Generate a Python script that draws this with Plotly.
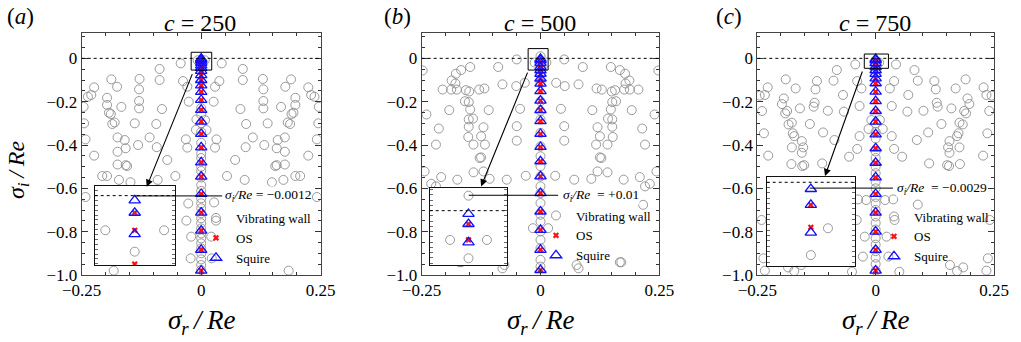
import plotly.graph_objects as go

W, H = 1021, 342
FONT = "Liberation Serif, Times New Roman, Times, serif"

# ---------------- data ----------------
# panel titles / labels
c_values = [250, 500, 750]
panel_tags = ["a", "b", "c"]
least_stable_labels = ["\u22120.0012", "+0.01", "\u22120.0029"]

# (a) c = 250 : vibrating-wall modes off the axis, right half (spectrum symmetric in sigma_r)
a_wall_side = [(0.043, -0.023), (0.087, -0.049), (0.038, -0.105), (0.087, -0.100), (0.129, -0.095),
               (0.188, -0.097), (0.029, -0.131), (0.176, -0.131), (0.130, -0.143), (0.224, -0.134),
               (0.230, -0.169), (0.237, -0.177), (0.026, -0.200), (0.130, -0.197), (0.197, -0.182),
               (0.082, -0.234), (0.130, -0.231), (0.167, -0.224), (0.197, -0.215), (0.193, -0.251),
               (0.189, -0.257), (0.246, -0.224), (0.245, -0.300), (0.094, -0.303), (0.139, -0.300),
               (0.181, -0.296), (0.186, -0.303), (0.108, -0.365), (0.032, -0.374), (0.160, -0.377),
               (0.175, -0.365), (0.242, -0.374), (0.029, -0.412), (0.093, -0.410), (0.132, -0.400),
               (0.158, -0.415), (0.175, -0.431), (0.224, -0.449), (0.071, -0.469), (0.155, -0.497),
               (0.158, -0.493), (0.175, -0.490), (0.054, -0.543), (0.091, -0.561), (0.172, -0.561),
               (0.197, -0.543), (0.207, -0.543), (0.148, -0.572), (0.242, -0.640), (0.183, -0.980)]
a_wall_mid = [(0.0075, -0.0089), (-0.0075, -0.0089), (0.0, -0.0144), (0.008, -0.285), (-0.010, -0.282),
              (0.011, -0.331), (-0.011, -0.330), (0.027, -0.665), (-0.027, -0.670), (0.031, -0.749),
              (-0.031, -0.749), (0.021, -0.823), (-0.021, -0.823), (0.022, -0.923), (-0.022, -0.923)]
a_wall_axis_y = [-0.23, -0.26, -0.30, -0.34, -0.39, -0.44, -0.46, -0.50, -0.52, -0.55, -0.585, -0.612,
                 -0.646, -0.669, -0.692, -0.715, -0.738, -0.761, -0.785, -0.808, -0.831, -0.854,
                 -0.877, -0.900, -0.928, -0.954, -0.977]
a_os_y = [-0.0044, -0.0089, -0.0176, -0.027, -0.038, -0.050, -0.063, -0.080, -0.100, -0.125, -0.155,
          -0.192, -0.238, -0.292, -0.349, -0.411, -0.480, -0.546, -0.626, -0.712, -0.795, -0.884, -0.980]
a_sq_y = [-0.0012, -0.0044, -0.0099, -0.021, -0.032, -0.044, -0.058, -0.077, -0.100, -0.125, -0.155,
          -0.192, -0.238, -0.292, -0.349, -0.411, -0.480, -0.546, -0.626, -0.712, -0.795, -0.884, -0.980]

# (b) c = 500
b_wall_side = [(0.050, -0.005), (0.089, -0.040), (0.148, -0.040), (0.167, -0.054), (0.178, -0.071),
               (0.187, -0.102), (0.179, -0.116), (0.248, -0.056), (0.033, -0.113), (0.051, -0.128),
               (0.080, -0.120), (0.118, -0.139), (0.129, -0.144), (0.157, -0.147), (0.150, -0.153),
               (0.176, -0.144), (0.188, -0.144), (0.206, -0.144), (0.043, -0.233), (0.109, -0.239),
               (0.148, -0.236), (0.151, -0.202), (0.159, -0.198), (0.192, -0.239), (0.240, -0.259),
               (0.142, -0.278), (0.151, -0.282), (0.050, -0.313), (0.120, -0.318), (0.151, -0.316),
               (0.214, -0.324), (0.050, -0.380), (0.125, -0.360), (0.152, -0.363), (0.117, -0.398),
               (0.141, -0.398), (0.220, -0.398), (0.125, -0.457), (0.128, -0.460), (0.031, -0.542),
               (0.071, -0.560), (0.107, -0.556), (0.120, -0.522), (0.141, -0.526), (0.175, -0.560),
               (0.209, -0.548), (0.220, -0.591), (0.230, -0.579), (0.244, -0.522), (0.216, -0.676),
               (0.076, -0.954), (0.080, -0.969), (0.167, -0.941), (0.170, -0.941)]
b_wall_mid = [(0.0, 0.010), (0.0123, -0.0195), (-0.0123, -0.0195), (0.0, -0.0317),
              (0.016, -0.784), (-0.016, -0.784)]
b_wall_axis_y = [-0.113, -0.198, -0.243, -0.282, -0.344, -0.406, -0.452, -0.498, -0.545, -0.591,
                 -0.622, -0.668, -0.722, -0.753, -0.799, -0.838, -0.876, -0.930, -0.961]
b_os_y = [-0.0089, -0.0195, -0.042, -0.058, -0.073, -0.093, -0.117, -0.151, -0.195, -0.239, -0.290,
          -0.349, -0.409, -0.475, -0.545, -0.622, -0.707, -0.792, -0.884, -0.977]
b_sq_y = [-0.0022, -0.0089, -0.0211, -0.040, -0.055, -0.071, -0.093, -0.117, -0.151, -0.195, -0.239,
          -0.290, -0.349, -0.409, -0.475, -0.545, -0.622, -0.707, -0.792, -0.884, -0.977]

# (c) c = 750
c_wall_side = [(0.043, -0.028), (0.082, -0.054), (0.039, -0.105), (0.089, -0.103), (0.124, -0.105),
               (0.190, -0.097), (0.030, -0.139), (0.069, -0.169), (0.127, -0.143), (0.169, -0.139),
               (0.228, -0.134), (0.234, -0.169), (0.245, -0.172), (0.194, -0.185), (0.129, -0.205),
               (0.131, -0.223), (0.034, -0.220), (0.067, -0.246), (0.101, -0.242), (0.160, -0.231),
               (0.187, -0.243), (0.198, -0.211), (0.191, -0.254), (0.240, -0.243), (0.139, -0.303),
               (0.177, -0.297), (0.184, -0.305), (0.034, -0.359), (0.087, -0.377), (0.111, -0.342),
               (0.156, -0.382), (0.172, -0.359), (0.175, -0.346), (0.236, -0.346), (0.039, -0.418),
               (0.056, -0.454), (0.153, -0.411), (0.156, -0.436), (0.177, -0.411), (0.227, -0.449),
               (0.113, -0.485), (0.151, -0.493), (0.155, -0.497), (0.178, -0.488), (0.037, -0.651),
               (0.089, -0.675), (0.237, -0.923), (0.241, -0.746), (0.050, -0.985), (0.157, -0.954),
               (0.172, -0.982), (0.185, -0.965), (0.234, -0.980)]
c_wall_mid = [(0.0074, -0.0199), (0.0, -0.0315), (0.009, -0.285), (-0.009, -0.285), (0.015, -0.326),
              (-0.015, -0.326), (0.020, -0.654), (-0.020, -0.654), (0.040, -0.746), (-0.040, -0.746),
              (0.023, -0.823), (-0.023, -0.823), (0.027, -0.915), (-0.027, -0.915)]
c_wall_axis_y = [-0.30, -0.34, -0.37, -0.43, -0.46, -0.50, -0.53, -0.57, -0.60, -0.64, -0.67, -0.70,
                 -0.73, -0.76, -0.79, -0.83, -0.86, -0.89, -0.92, -0.95, -0.98]
c_os_y = [-0.0098, -0.0195, -0.042, -0.057, -0.072, -0.092, -0.115, -0.154, -0.197, -0.243, -0.292,
          -0.351, -0.415, -0.482, -0.549, -0.626, -0.712, -0.800, -0.884, -0.980]
c_sq_y = [-0.0029, -0.0098, -0.0218, -0.040, -0.055, -0.072, -0.092, -0.115, -0.154, -0.197, -0.243,
          -0.292, -0.351, -0.415, -0.482, -0.549, -0.626, -0.712, -0.800, -0.884, -0.980]

datasets = [
    (a_wall_side, a_wall_mid, a_wall_axis_y, a_os_y, a_sq_y),
    (b_wall_side, b_wall_mid, b_wall_axis_y, b_os_y, b_sq_y),
    (c_wall_side, c_wall_mid, c_wall_axis_y, c_os_y, c_sq_y),
]

# ---------------- layout geometry (pixels) ----------------
geom = [
    dict(main=(81.7, 320.7), inset=(94.7, 174.7, 185.7, 265.3),
         ix=0.0102, iy=(-0.0179, 0.00255), idt=0.00125,
         box=(-0.021, 0.022, -0.054, 0.028), arrow=(-0.0174, -0.066, -0.114, -0.593),
         conn=(-0.139, 0.044, -0.635), lab_x=0.048, legend=(196, 203),
         title_x=200, tag_x=20.5, label_sp=" "),
    dict(main=(421.7, 659.3), inset=(429.7, 507.3, 187.7, 265.3),
         ix=0.0259, iy=(-0.0364, 0.0153), idt=0.0035,
         box=(-0.026, 0.016, -0.054, 0.045), arrow=(-0.026, -0.059, -0.125, -0.591),
         conn=(-0.151, 0.037, -0.632), lab_x=0.0446, legend=(536, 200.5),
         title_x=540, tag_x=397.5, label_sp="\u00a0\u00a0"),
    dict(main=(757.3, 994.0), inset=(766.7, 855.0, 176.7, 265.7),
         ix=0.0191, iy=(-0.0361, 0.00242), idt=0.0023,
         box=(-0.024, 0.027, -0.046, 0.020), arrow=(-0.027, -0.054, -0.107, -0.543),
         conn=(-0.139, 0.0365, -0.599), lab_x=0.044, legend=(874, 201.5),
         title_x=875, tag_x=729, label_sp="\u00a0\u00a0"),
]
PLOT_TOP, PLOT_BOT = 33.0, 275.0


def px(x):
    return x / W


def py(y):
    return 1 - y / H


fig = go.Figure()
shapes, annotations = [], []
layout = {}

wall_marker = dict(symbol="circle-open", size=9, color="#8f8f8f", line=dict(width=0.9, color="#8f8f8f"))
os_marker = dict(symbol="x", size=5.5, color="#ff1010", line=dict(width=0))
sq_marker = dict(symbol="triangle-up-open", size=10, color="#1010ff", line=dict(width=1.3, color="#1010ff"))

tickfont = dict(family=FONT, size=17, color="black")
axis_title = "<i>σ<sub>{}</sub>\u2009/\u2009Re</i>"

for i, (data, g) in enumerate(zip(datasets, geom)):
    side, mid, axis_y, os_y, sq_y = data
    wx = [p[0] for p in side] + [-p[0] for p in side] + [p[0] for p in mid] + [0.0] * len(axis_y)
    wy = [p[1] for p in side] + [p[1] for p in side] + [p[1] for p in mid] + list(axis_y)
    osx = [0.0] * len(os_y)
    sqx = [0.0] * len(sq_y)

    n_main = i + 1
    n_ins = i + 4
    xm = "x" if n_main == 1 else f"x{n_main}"
    ym = "y" if n_main == 1 else f"y{n_main}"
    xi, yi = f"x{n_ins}", f"y{n_ins}"
    leg = "legend" if n_main == 1 else f"legend{n_main}"

    # main traces
    fig.add_trace(go.Scatter(x=wx, y=wy, mode="markers", marker=wall_marker, name="Vibrating wall",
                             xaxis=xm, yaxis=ym, legend=leg))
    fig.add_trace(go.Scatter(x=osx, y=os_y, mode="markers", marker=os_marker, name="OS",
                             xaxis=xm, yaxis=ym, legend=leg))
    fig.add_trace(go.Scatter(x=sqx, y=sq_y, mode="markers", marker=sq_marker, name="Squire",
                             xaxis=xm, yaxis=ym, legend=leg))
    # inset traces (zoom of the same spectrum)
    fig.add_trace(go.Scatter(x=wx, y=wy, mode="markers", marker=wall_marker, showlegend=False,
                             xaxis=xi, yaxis=yi))
    fig.add_trace(go.Scatter(x=osx, y=os_y, mode="markers", marker=os_marker, showlegend=False,
                             xaxis=xi, yaxis=yi))
    fig.add_trace(go.Scatter(x=sqx, y=sq_y, mode="markers", marker=sq_marker, showlegend=False,
                             xaxis=xi, yaxis=yi))

    # main axes
    kx = "xaxis" if n_main == 1 else f"xaxis{n_main}"
    ky = "yaxis" if n_main == 1 else f"yaxis{n_main}"
    layout[kx] = dict(domain=[px(g["main"][0]), px(g["main"][1])], anchor=ym, range=[-0.25, 0.25],
                      tickmode="array", tickvals=[-0.25, 0, 0.25], ticktext=["\u22120.25", "0", "0.25"],
                      ticks="inside", ticklen=6, tickwidth=1, tickcolor="#333",
                      showline=True, linecolor="#444", linewidth=1, mirror="allticks",
                      showgrid=False, zeroline=False, tickfont=tickfont, automargin=False,
                      minor=dict(tickmode="linear", tick0=0, dtick=0.05, ticks="inside", ticklen=3,
                                 tickcolor="#333", showgrid=False))
    layout[ky] = dict(domain=[py(PLOT_BOT), py(PLOT_TOP)], anchor=xm, range=[-1.0, 0.117],
                      tickmode="array", tickvals=[0, -0.2, -0.4, -0.6, -0.8, -1.0],
                      ticktext=["0", "\u22120.2", "\u22120.4", "\u22120.6", "\u22120.8", "\u22121.0"],
                      ticks="inside", ticklen=6, tickwidth=1, tickcolor="#333",
                      showline=True, linecolor="#444", linewidth=1, mirror="allticks",
                      showgrid=False, zeroline=False, tickfont=tickfont, automargin=False,
                      minor=dict(tickmode="linear", tick0=0, dtick=0.05, ticks="inside", ticklen=3,
                                 tickcolor="#333", showgrid=False))
    # inset axes
    x0, x1, y0, y1 = g["inset"]
    layout[f"xaxis{n_ins}"] = dict(domain=[px(x0), px(x1)], anchor=yi, range=[-g["ix"], g["ix"]],
                                   showticklabels=False, ticks="", showline=True, linecolor="#111",
                                   linewidth=1, mirror=True, showgrid=False, zeroline=False,
                                   automargin=False)
    layout[f"yaxis{n_ins}"] = dict(domain=[py(y1), py(y0)], anchor=xi, range=list(g["iy"]),
                                   showticklabels=False, ticks="inside", ticklen=3, tickcolor="#444",
                                   tickwidth=0.8, tickmode="linear", tick0=0, dtick=g["idt"],
                                   showline=True, linecolor="#111", linewidth=1, mirror="allticks",
                                   showgrid=False, zeroline=False, automargin=False)

    # dotted zero lines
    shapes.append(dict(type="line", xref=f"{xm} domain", yref=ym, x0=0, x1=1, y0=0, y1=0,
                       line=dict(color="black", width=1, dash="dot"), layer="above"))
    shapes.append(dict(type="line", xref=f"{xi} domain", yref=yi, x0=0, x1=1, y0=0, y1=0,
                       line=dict(color="black", width=1, dash="dot"), layer="above"))
    # zoom box near origin
    bx0, bx1, by0, by1 = g["box"]
    shapes.append(dict(type="rect", xref=xm, yref=ym, x0=bx0, x1=bx1, y0=by0, y1=by1,
                       line=dict(color="black", width=1), layer="above"))
    # connector line to least-stable mode label
    cx0, cx1, cy = g["conn"]
    shapes.append(dict(type="line", xref=xm, yref=ym, x0=cx0, x1=cx1, y0=cy, y1=cy,
                       line=dict(color="black", width=1), layer="above"))
    # arrow from zoom box to inset
    tx, ty, hx, hy = g["arrow"]
    annotations.append(dict(x=hx, y=hy, ax=tx, ay=ty, xref=xm, yref=ym, axref=xm, ayref=ym,
                            showarrow=True, arrowhead=2, arrowsize=1.3, arrowwidth=1.1,
                            arrowcolor="black", text="", standoff=0))
    annotations.append(dict(x=g["lab_x"], y=cy, xref=xm, yref=ym, xanchor="left", yanchor="middle",
                            showarrow=False, bgcolor="white", borderpad=0,
                            text=f"<i>σ<sub>i</sub>/Re</i>{g['label_sp']}= {least_stable_labels[i]}",
                            font=dict(family=FONT, size=13.5, color="black")))
    # titles
    annotations.append(dict(x=px(g["title_x"]), y=py(23), xref="paper", yref="paper",
                            xanchor="center", yanchor="middle", showarrow=False,
                            text=f"<i>c</i> = {c_values[i]}",
                            font=dict(family=FONT, size=24, color="black")))
    annotations.append(dict(x=px(g["tag_x"]), y=py(17), xref="paper", yref="paper",
                            xanchor="center", yanchor="middle", showarrow=False,
                            text=f"(<i>{panel_tags[i]}</i>)",
                            font=dict(family=FONT, size=23, color="black")))
    annotations.append(dict(x=px((g["main"][0] + g["main"][1]) / 2), y=py(322), xref="paper",
                            yref="paper", xanchor="center", yanchor="middle", showarrow=False,
                            text=axis_title.format("r"),
                            font=dict(family=FONT, size=27, color="black")))
    # legend
    lx, ly = g["legend"]
    layout[leg] = dict(x=px(lx), y=py(ly), xanchor="left", yanchor="top", bgcolor="rgba(0,0,0,0)",
                       borderwidth=0, font=dict(family=FONT, size=13, color="black"),
                       itemwidth=30, tracegroupgap=0)

annotations.append(dict(x=px(1), y=py(170), xref="paper", yref="paper", xanchor="left",
                        yanchor="middle", showarrow=False, textangle=-90,
                        text=axis_title.format("i"), font=dict(family=FONT, size=24, color="black")))

fig.update_layout(template="none", width=W, height=H, autosize=False,
                  margin=dict(l=0, r=0, t=0, b=0, pad=0, autoexpand=False),
                  paper_bgcolor="white", plot_bgcolor="white", shapes=shapes,
                  annotations=annotations, font=dict(family=FONT, color="black"), **layout)

# the page body has a default 8px margin; remove it so the figure fills the window exactly
fig.write_html("out.html", config={"displayModeBar": False, "staticPlot": True},
               post_script="document.body.style.margin='0px';")
